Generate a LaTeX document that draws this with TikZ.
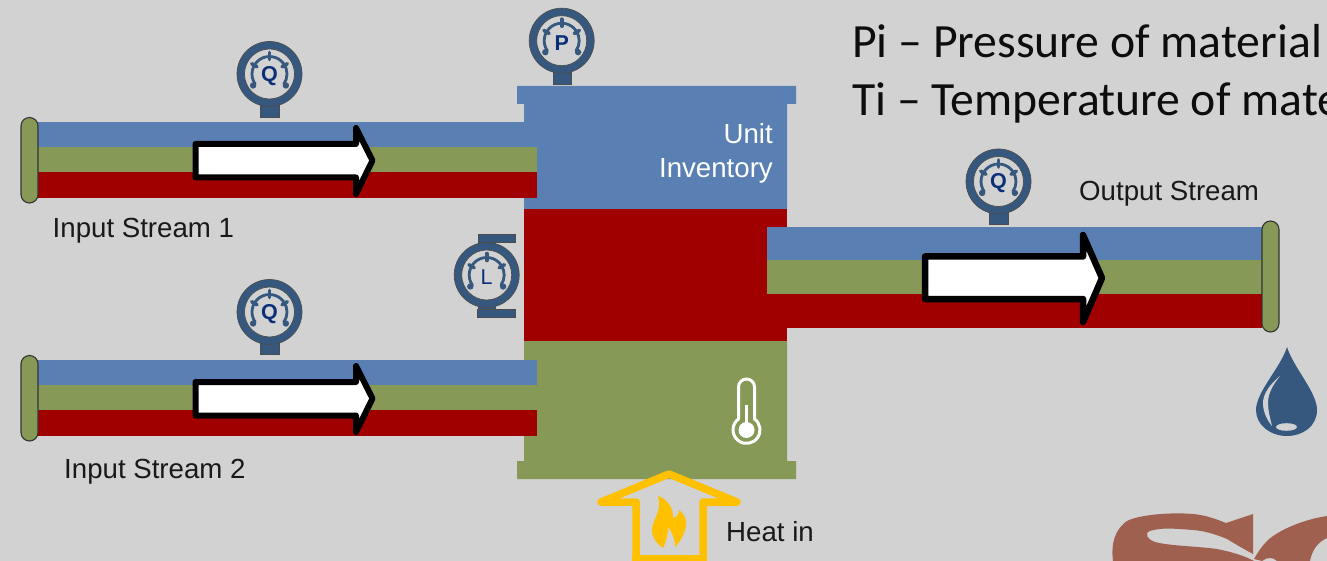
\documentclass[tikz,border=0pt]{standalone}
\usepackage{fontspec}
\setmainfont{Liberation Sans}
\newfontfamily\calib{Carlito}
\definecolor{bgc}{HTML}{D2D2D2}
\definecolor{pipeblue}{HTML}{5A80B3}
\definecolor{pipegreen}{HTML}{879957}
\definecolor{pipered}{HTML}{A00000}
\definecolor{gaugeblue}{HTML}{36587F}
\definecolor{letterblue}{HTML}{0A2F78}
\definecolor{heatyellow}{HTML}{FFC000}
\definecolor{logobrown}{HTML}{A06050}
\tikzset{
  lbl/.style={font=\fontsize{27.65}{30}\selectfont,text=black!90,inner sep=0pt,anchor=base west},
  unitlbl/.style={font=\fontsize{27.65}{30}\selectfont,text=white,inner sep=0pt,anchor=base east},
  bigtext/.style={font=\calib\fontsize{47.7}{50}\selectfont,text=black!95,inner sep=0pt,anchor=base west},
  capstyle/.style={fill=pipegreen,draw=black!80,line width=1.1pt,rounded corners=8.5pt},
  flowarrow/.style={fill=white,draw=black,line join=round},
  pics/gauge/.style={code={
    \begin{scope}[y=1pt]
      \fill[gaugeblue,draw=black!70,line width=0.7pt] (0,0) circle[radius=32.5pt];
      \fill[bgc,draw=black!70,line width=0.7pt] (0,0) circle[radius=25pt];
      \draw[gaugeblue,line width=2.8pt,line cap=round] (215:17.5pt) arc[start angle=215,end angle=-35,radius=17.5pt];
      \foreach \a/\r in {90/21.5,30/20.5,150/20.5}{
        \draw[gaugeblue,line width=3.6pt,line cap=round] (\a:14.5pt) -- (\a:\r pt);
      }
      \fill[gaugeblue] (215:20pt) circle[radius=3.2pt];
      \fill[gaugeblue] (-35:20pt) circle[radius=3.2pt];
      \node[font=\bfseries\fontsize{21.5}{21.5}\selectfont,text=letterblue,inner sep=0pt] at (0,-2pt) {#1};
    \end{scope}
  }},
  stem/.style={fill=gaugeblue,draw=black!70,line width=0.7pt}
}
\begin{document}
\begin{tikzpicture}[x=1pt,y=-1pt]
\useasboundingbox (0,0) rectangle (1327,561);
\clip (0,0) rectangle (1327,561);
\fill[bgc] (0,0) rectangle (1327,561);

% unit
\fill[pipeblue] (524,104) -- (517,104) -- (517,86) -- (796,86) -- (796,104) -- (787,104) -- (787,209.5) -- (524,209.5) -- cycle;
\fill[pipered] (524,209) rectangle (787,341.5);
\fill[pipegreen] (524,341) -- (787,341) -- (787,461) -- (796,461) -- (796,479) -- (517,479) -- (517,461) -- (524,461) -- cycle;

% input pipe 1
\fill[pipeblue] (37,122) rectangle (537,147);
\fill[pipegreen] (37,147) rectangle (537,172);
\fill[pipered] (37,172) rectangle (537,198);
\draw[capstyle] (21,117.5) rectangle (38,203);
% input pipe 2
\fill[pipeblue] (37,360) rectangle (537,385);
\fill[pipegreen] (37,385) rectangle (537,410);
\fill[pipered] (37,410) rectangle (537,436);
\draw[capstyle] (21,355.5) rectangle (38,441);
% output pipe
\fill[pipeblue] (767,227) rectangle (1262,260);
\fill[pipegreen] (767,260) rectangle (1262,294);
\fill[pipered] (767,294) rectangle (1262,328);
\draw[capstyle] (1262,221) rectangle (1279,332);

% flow arrows
\draw[flowarrow,line width=6pt] (195.5,144) -- (356,144) -- (356,128) -- (372.5,160.5) -- (356,194) -- (356,177.5) -- (195.5,177.5) -- cycle;
\draw[flowarrow,line width=6pt] (195.5,382) -- (356,382) -- (356,366) -- (372.5,398.5) -- (356,432) -- (356,415.5) -- (195.5,415.5) -- cycle;
\draw[flowarrow,line width=6.5pt] (925,256.5) -- (1083,256.5) -- (1083,235) -- (1102,278) -- (1083,322) -- (1083,299) -- (925,299) -- cycle;

% gauges
\fill[stem] (260,105) rectangle (279,117);
\pic (gq1) at (269.5,74) {gauge={Q}};
\fill[stem] (260,342) rectangle (279,354);
\pic (gq2) at (269.5,312) {gauge={Q}};
\fill[stem] (553,72) rectangle (571.7,84);
\pic (gp) at (561.7,40.7) {gauge={P}};
\fill[stem] (989,212) rectangle (1008,224);
\pic (gq3) at (998.5,181.5) {gauge={Q}};
% level gauge
\fill[stem] (478,242) rectangle (495,247);
\fill[stem] (478,234) rectangle (515,242);
\fill[stem] (478,304) rectangle (495,310);
\fill[stem] (477,309) rectangle (515,317);
\pic (gl) at (486.7,275) {gauge={\mdseries L}};

% thermometer
\draw[white,line width=3pt,line join=round] (738.5,419) -- (738.5,387) arc[start angle=180,end angle=0,radius=8pt] -- (754.5,419) arc[start angle=53.7,end angle=-233.7,radius=13.5pt] -- cycle;
\fill[white] (746.5,430) circle[radius=8pt];
\draw[white,line width=2.6pt] (746.5,405) -- (746.5,425);

% heat arrow
\draw[heatyellow,line width=7.5pt,line join=round,line cap=round] (636,565) -- (636,502) -- (601,502) -- (669,474) -- (737,502) -- (703,502) -- (703,565);
\draw[heatyellow,line width=7.5pt] (632,558.5) -- (707,558.5);
\fill[heatyellow] (658,496) .. controls (668,499) and (674,510) .. (673,518) .. controls (677,517) and (679,514) .. (679,510) .. controls (684,514) and (687,519) .. (686,525) .. controls (685,534) and (680,542) .. (675,547) .. controls (675,539) and (672,532) .. (668,527) .. controls (668,535) and (666,542) .. (663,548) .. controls (657,544) and (652,538) .. (652,530) .. controls (652,520) and (663,510) .. (658,496) -- cycle;

% drop
\fill[gaugeblue] (1287,347) .. controls (1293,367) and (1317,392) .. (1317,410) .. controls (1317,426) and (1303,436) .. (1287,436) .. controls (1270,436) and (1256,425) .. (1256,410) .. controls (1256,392) and (1281,367) .. (1287,347) -- cycle;
\fill[bgc] (1280,376) .. controls (1268,386) and (1263,395) .. (1263,403) .. controls (1263,412) and (1267,420) .. (1272,426) .. controls (1270,418) and (1268,410) .. (1268,403) .. controls (1268,394) and (1272,386) .. (1280,376) -- cycle;
\fill[bgc] (1286.5,427) ellipse[x radius=10.5pt,y radius=3.8pt];

% logo
\fill[logobrown] (1113,561) .. controls (1111,545) and (1114,530) .. (1127,521) .. controls (1138,515) and (1170,512) .. (1193,514) .. controls (1205,515) and (1216,519) .. (1226,523) -- (1253,514) -- (1253,554) .. controls (1240,547) and (1232,542) .. (1227,539) .. controls (1215,534) and (1205,531) .. (1193,530) .. controls (1180,529) and (1168,528) .. (1160,529) .. controls (1152,530) and (1147,531) .. (1147,534) .. controls (1147,538) and (1150,540) .. (1155,542) .. controls (1170,546) and (1195,546) .. (1217,549) .. controls (1232,552) and (1245,556) .. (1254,561) -- cycle;
\fill[logobrown] (1254,559) .. controls (1258,552) and (1262,546) .. (1267,541) .. controls (1276,532) and (1300,520) .. (1327,516) -- (1327,538) .. controls (1318,542) and (1312,550) .. (1310,561) -- (1277,561) .. controls (1273,557) and (1267,557) .. (1262,561) -- cycle;

% labels
\node[lbl] (in1) at (52.5,237.5) {Input Stream 1};
\node[lbl] (in2) at (64,478.5) {Input Stream 2};
\node[lbl] (outs) at (1079,200.5) {Output Stream};
\node[lbl] (heat) at (726,541.5) {Heat in};
\node[unitlbl] (u1) at (773,143.5) {Unit};
\node[unitlbl] (u2) at (773,177.5) {Inventory};
\node[bigtext] (pi) at (852,58) {Pi – Pressure of material};
\node[bigtext] (ti) at (852,116) {Ti – Temperature of material};
\end{tikzpicture}
\end{document}
